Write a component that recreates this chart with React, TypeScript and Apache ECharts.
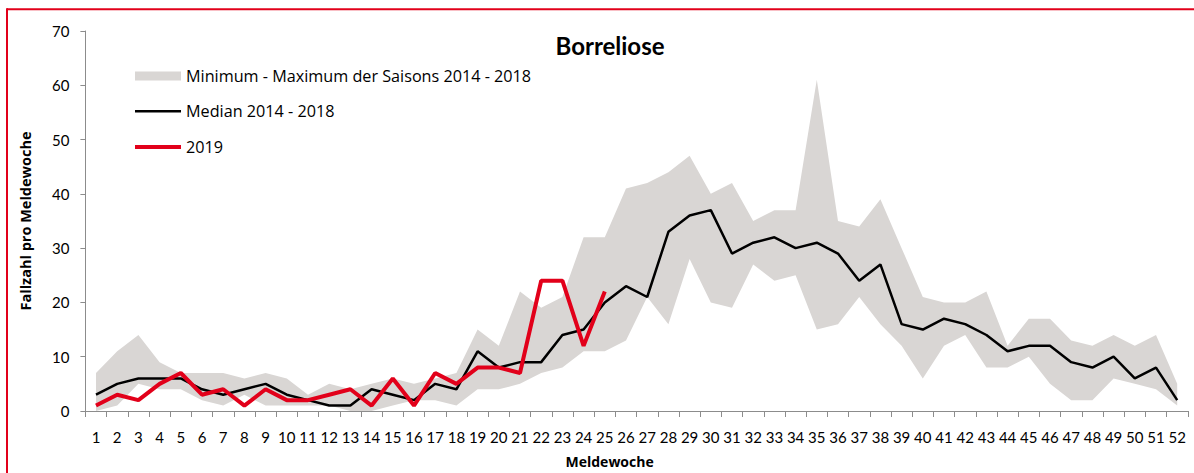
import React, { useEffect, useRef } from "react";
import * as echarts from "echarts";

const weeks: string[] = Array.from({ length: 52 }, (_, i) => String(i + 1));

const minValues: number[] = [
  0, 1, 5, 4, 4, 2, 1, 3, 1, 1, 1, 1, 0, 0, 1, 2, 2, 1, 4, 4,
  5, 7, 8, 11, 11, 13, 21, 16, 28, 20, 19, 27, 24, 25, 15, 16, 21, 16, 12, 6,
  12, 14, 8, 8, 10, 5, 2, 2, 6, 5, 4, 1,
];

const maxValues: number[] = [
  7, 11, 14, 9, 7, 7, 7, 6, 7, 6, 3, 5, 4, 5, 6, 5, 6, 7, 15, 12,
  22, 19, 21, 32, 32, 41, 42, 44, 47, 40, 42, 35, 37, 37, 61, 35, 34, 39, 30, 21,
  20, 20, 22, 12, 17, 17, 13, 12, 14, 12, 14, 5,
];

const medianValues: number[] = [
  3, 5, 6, 6, 6, 4, 3, 4, 5, 3, 2, 1, 1, 4, 3, 2, 5, 4, 11, 8,
  9, 9, 14, 15, 20, 23, 21, 33, 36, 37, 29, 31, 32, 30, 31, 29, 24, 27, 16, 15,
  17, 16, 14, 11, 12, 12, 9, 8, 10, 6, 8, 2,
];

const values2019: number[] = [
  1, 3, 2, 5, 7, 3, 4, 1, 4, 2, 2, 3, 4, 1, 6, 1, 7, 5, 8, 8,
  7, 24, 24, 12, 22,
];

const yTicks = { min: 0, max: 70, interval: 10 };

const titleText = "Borreliose";
const legendLabels = [
  "Minimum - Maximum der Saisons 2014 - 2018",
  "Median 2014 - 2018",
  "2019",
];
const xAxisName = "Meldewoche";
const yAxisName = "Fallzahl pro Meldewoche";

const BAND = "#d9d6d4";
const RED = "#e2001a";
const FONT = "Lato, 'Open Sans', sans-serif";
const FONT2 = "'Open Sans', Lato, sans-serif";

export default function App() {
  const ref = useRef<HTMLDivElement>(null);

  useEffect(() => {
    if (!ref.current) return;
    const chart = echarts.init(ref.current, undefined, { renderer: "svg" });
    const rangeValues = maxValues.map((v, i) => v - minValues[i]);

    chart.setOption({
      animation: false,
      textStyle: { fontFamily: FONT },
      title: {
        text: titleText,
        left: 605,
        top: 28,
        textAlign: "center",
        textStyle: { fontFamily: FONT, fontSize: 24, fontWeight: "bold", color: "#000" },
      },
      grid: { left: 85.4, width: 1102.4, top: 31, height: 382.3, containLabel: false },
      xAxis: {
        type: "category",
        data: weeks,
        boundaryGap: true,
        name: xAxisName,
        nameLocation: "middle",
        nameGap: 43,
        nameTextStyle: {
          fontFamily: FONT2,
          fontSize: 14,
          fontWeight: "bold",
          color: "#000",
          padding: [0, 54, 0, 0],
        },
        axisLine: { lineStyle: { color: "#8c8c8c", width: 1 } },
        axisTick: { show: true, alignWithLabel: false, interval: 0, length: 6, lineStyle: { color: "#8c8c8c" } },
        axisLabel: { interval: 0, margin: 18, fontSize: 15, color: "#000", fontFamily: FONT },
        splitLine: { show: false },
      },
      yAxis: {
        type: "value",
        min: yTicks.min,
        max: yTicks.max,
        interval: yTicks.interval,
        name: yAxisName,
        nameLocation: "middle",
        nameRotate: 90,
        nameGap: 52,
        nameTextStyle: { fontFamily: FONT2, fontSize: 14.5, fontWeight: "bold", color: "#000" },
        axisLine: { show: true, lineStyle: { color: "#8c8c8c", width: 1 } },
        axisTick: { show: true, length: 5, lineStyle: { color: "#8c8c8c" } },
        axisLabel: { margin: 16, fontSize: 15, color: "#000", fontFamily: FONT },
        splitLine: { show: false },
      },
      series: [
        {
          name: "min",
          type: "line",
          data: minValues,
          stack: "band",
          symbol: "none",
          lineStyle: { width: 0, opacity: 0 },
          silent: true,
          z: 1,
        },
        {
          name: legendLabels[0],
          type: "line",
          data: rangeValues,
          stack: "band",
          symbol: "none",
          lineStyle: { width: 0, opacity: 0 },
          areaStyle: { color: BAND, opacity: 1 },
          silent: true,
          z: 1,
        },
        {
          name: legendLabels[1],
          type: "line",
          data: medianValues,
          symbol: "none",
          lineStyle: { color: "#000", width: 2.5 },
          z: 3,
        },
        {
          name: legendLabels[2],
          type: "line",
          data: values2019,
          symbol: "none",
          lineStyle: { color: RED, width: 4 },
          z: 4,
        },
      ],
      graphic: [
        {
          type: "line",
          shape: { x1: 7, y1: 9.3, x2: 1194, y2: 9.3 },
          style: { stroke: RED, lineWidth: 2 },
          silent: true,
        },
        {
          type: "line",
          shape: { x1: 7, y1: 8.3, x2: 7, y2: 473 },
          style: { stroke: RED, lineWidth: 2 },
          silent: true,
        },
        { type: "rect", shape: { x: 135, y: 71.5, width: 46, height: 9 }, style: { fill: BAND } },
        {
          type: "text",
          x: 186,
          y: 76,
          style: { text: legendLabels[0], font: `16.2px ${FONT2}`, fill: "#000", textVerticalAlign: "middle" },
        },
        { type: "rect", shape: { x: 135, y: 110, width: 46, height: 2.5 }, style: { fill: "#000" } },
        {
          type: "text",
          x: 186,
          y: 111,
          style: { text: legendLabels[1], font: `16.2px ${FONT2}`, fill: "#000", textVerticalAlign: "middle" },
        },
        { type: "rect", shape: { x: 135, y: 145, width: 46, height: 4 }, style: { fill: RED } },
        {
          type: "text",
          x: 186,
          y: 147,
          style: { text: legendLabels[2], font: `16.2px ${FONT2}`, fill: "#000", textVerticalAlign: "middle" },
        },
      ],
    });

    return () => chart.dispose();
  }, []);

  return (
    <div
      ref={ref}
      style={{ position: "absolute", left: 0, top: 0, width: 1194, height: 473, background: "#fff" }}
    />
  );
}
